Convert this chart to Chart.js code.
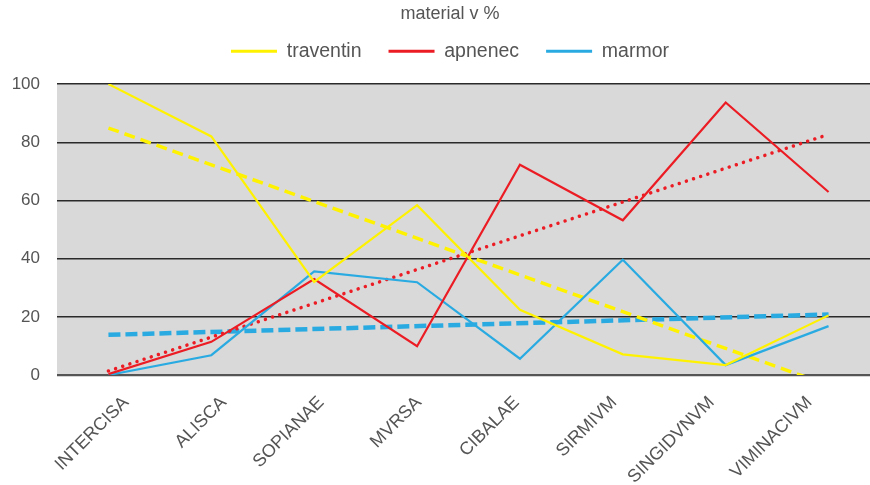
<!DOCTYPE html>
<html>
<head>
<meta charset="utf-8">
<script src="https://cdn.jsdelivr.net/npm/chart.js@4/dist/chart.umd.min.js"></script>
<style>
  html, body { margin: 0; padding: 0; background: #fff; overflow: hidden; width: 870px; height: 485px; }
  #wrap { width: 925px; height: 485px; position: relative; }
</style>
</head>
<body>
<div id="wrap"><canvas id="c"></canvas></div>
<script>
const categories = ['INTERCISA', 'ALISCA', 'SOPIANAE', 'MVRSA', 'CIBALAE', 'SIRMIVM', 'SINGIDVNVM', 'VIMINACIVM'];
const traventin = [100, 82, 32, 58.4, 22.4, 7.1, 3.4, 20.5];
const apnenec   = [0.3, 11.4, 33, 9.9, 72.3, 53.2, 93.7, 62.9];
const marmor    = [0, 6.8, 35.6, 31.9, 5.6, 39.6, 3.4, 16.8];
// trend lines (start and end values)
const trendTraventin = [84.9, null, null, null, null, null, null, -3.5];
const trendApnenec   = [1.4, null, null, null, null, null, null, 82.7];
const trendMarmor    = [13.8, null, null, null, null, null, null, 20.8];
const yTicks = [0, 20, 40, 60, 80, 100];

const YELLOW = '#fff200', RED = '#ec1c24', BLUE = '#29abe2';
const TEXT = '#555555';

const plotBg = {
  id: 'plotBg',
  beforeDraw(chart) {
    const {ctx, chartArea: a} = chart;
    ctx.save();
    ctx.fillStyle = '#d9d9d9';
    ctx.fillRect(a.left, a.top, a.right - a.left, a.bottom - a.top);
    ctx.restore();
  }
};

const ax = { xAxisID: 'x', yAxisID: 'y' };

new Chart(document.getElementById('c'), {
  type: 'line',
  data: {
    labels: categories,
    datasets: [
      { ...ax, label: 'traventin', data: traventin, borderColor: YELLOW, backgroundColor: YELLOW, borderWidth: 2.2 },
      { ...ax, label: 'apnenec', data: apnenec, borderColor: RED, backgroundColor: RED, borderWidth: 2.2 },
      { ...ax, label: 'marmor', data: marmor, borderColor: BLUE, backgroundColor: BLUE, borderWidth: 2.2 },
      { ...ax, label: 'trend traventin', data: trendTraventin, borderColor: YELLOW, borderWidth: 3.5, borderDash: [11, 6], spanGaps: true },
      { ...ax, label: 'trend apnenec', data: trendApnenec, borderColor: RED, borderWidth: 3.5, borderDash: [0.01, 7.5], borderCapStyle: 'round', spanGaps: true },
      { ...ax, label: 'trend marmor', data: trendMarmor, borderColor: BLUE, borderWidth: 4.5, borderDash: [12, 5], spanGaps: true }
    ]
  },
  options: {
    responsive: true,
    maintainAspectRatio: false,
    animation: false,
    devicePixelRatio: 1,
    elements: { point: { radius: 0, hoverRadius: 0 }, line: { tension: 0 } },
    layout: { padding: { left: 0, right: 25, top: 0, bottom: 0 } },
    plugins: {
      tooltip: { enabled: false },
      title: {
        display: true,
        text: 'material v %',
        color: TEXT,
        font: { family: 'Liberation Sans', size: 18, weight: 'normal' },
        padding: { top: 3, bottom: -10 }
      },
      legend: {
        display: true,
        labels: {
          usePointStyle: true,
          pointStyle: 'line',
          pointStyleWidth: 46,
          padding: 27,
          color: TEXT,
          font: { family: 'Liberation Sans', size: 19.5 },
          filter: (item) => item.datasetIndex < 3,
          generateLabels(chart) {
            return chart.data.datasets.map((ds, i) => ({
              text: ds.label,
              fillStyle: ds.borderColor,
              strokeStyle: ds.borderColor,
              lineWidth: 3,
              pointStyle: 'line',
              hidden: false,
              datasetIndex: i,
              fontColor: TEXT
            }));
          }
        }
      }
    },
    scales: {
      x: {
        type: 'category',
        display: false,
        offset: true
      },
      y: {
        min: 0,
        max: 100,
        afterBuildTicks(scale) { scale.ticks = yTicks.map(v => ({ value: v })); },
        afterFit(scale) { scale.width = 57; },
        border: { display: false },
        grid: {
          drawTicks: false,
          color: (c) => c.tick && c.tick.value === 0 ? '#555555' : '#2a2a2a',
          lineWidth: (c) => c.tick && c.tick.value === 0 ? 2.2 : 1.4
        },
        ticks: {
          padding: 17,
          color: TEXT,
          font: { family: 'Liberation Sans', size: 17 }
        }
      },
      spacerTop: {
        type: 'linear',
        position: 'top',
        display: true,
        grid: { display: false, drawTicks: false },
        border: { display: false },
        ticks: { display: false },
        afterFit(scale) { scale.height = 13; }
      },
      spacerRight: {
        type: 'linear',
        position: 'right',
        display: true,
        grid: { display: false, drawTicks: false },
        border: { display: false },
        ticks: { display: false },
        afterFit(scale) { scale.width = 20; }
      },
      x2: {
        type: 'linear',
        position: 'bottom',
        min: -0.707,
        max: 7.725,
        grid: { display: false, drawTicks: false },
        border: { display: false },
        afterBuildTicks(scale) { scale.ticks = categories.map((c, i) => ({ value: i })); },
        afterFit(scale) { scale.height = 110; },
        ticks: {
          autoSkip: false,
          minRotation: 45,
          maxRotation: 45,
          padding: 17,
          color: TEXT,
          font: { family: 'Liberation Sans', size: 18 },
          callback: (v) => categories[v]
        }
      }
    }
  },
  plugins: [plotBg]
});
</script>
</body>
</html>
